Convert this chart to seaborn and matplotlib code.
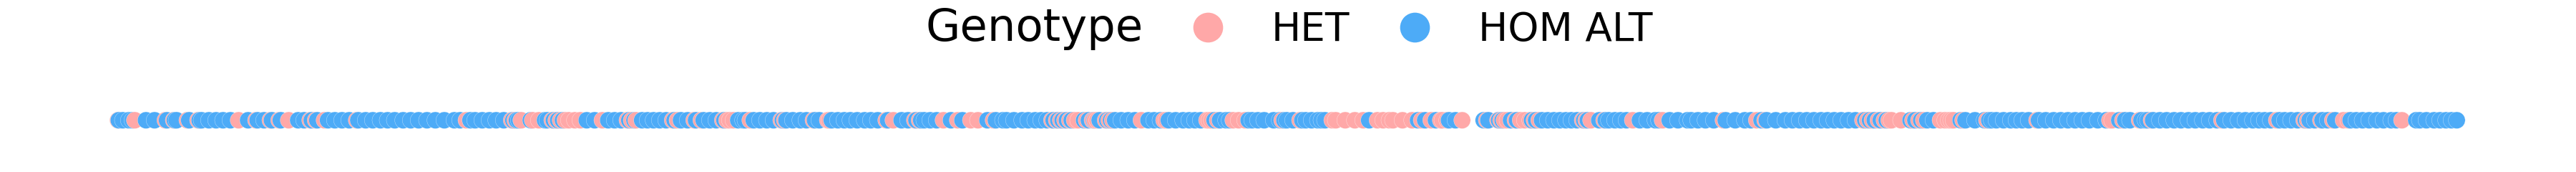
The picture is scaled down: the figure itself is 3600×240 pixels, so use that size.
import numpy as np
import pandas as pd
import matplotlib
matplotlib.use("Agg")
import matplotlib.pyplot as plt
from matplotlib.lines import Line2D
import seaborn as sns

# ---- data: variant positions (arbitrary position units) and genotype calls ----
het_pos = [165.0, 188.4, 231.0, 242.7, 261.7, 276.7, 333.4, 357.7, 377.7, 390.0,
           403.4, 433.4, 441.0, 453.4, 498.4,
           651.7, 715.0, 720.0, 728.4, 744.4, 753.0, 771.7, 777.4, 783.4, 790.0,
           795.0, 803.4, 811.0, 841.7, 876.7, 882.7, 889.0, 940.0, 946.7, 970.0,
           980.0, 1010.0, 1016.0, 1020.0, 1025.0,
           1048.4, 1091.7, 1096.7, 1136.7, 1156.7, 1159.0, 1238.4, 1248.4, 1278.4,
           1285.0, 1318.4, 1338.4, 1356.7, 1366.7, 1388.4, 1470.0, 1476.7, 1482.4,
           1488.4, 1495.0, 1501.7, 1506.7, 1518.4, 1526.7,
           1530.0, 1533.4, 1545.0, 1550.0, 1555.0, 1595.0, 1626.7, 1630.0, 1686.7,
           1690.0, 1693.4, 1701.7, 1723.4, 1731.0, 1740.0, 1791.7, 1816.7, 1861.7,
           1866.7, 1880.0, 1893.4, 1905.0, 1925.0, 1933.0, 1941.7, 1946.7, 1960.0,
           1973.4, 1986.7, 2000.0, 2013.4,
           2015.7, 2022.4, 2043.4, 2077.7, 2093.4, 2097.7, 2102.4, 2106.7, 2117.7,
           2125.0, 2131.0, 2138.4, 2144.4, 2151.0, 2211.7, 2216.7, 2223.4, 2241.7,
           2281.7, 2323.4, 2408.4, 2455.0, 2466.7,
           2603.4, 2610.0, 2616.7, 2625.0, 2633.4, 2640.0, 2643.4, 2656.7, 2673.4,
           2681.7, 2688.4, 2711.7, 2718.4, 2723.4, 2726.7, 2730.0, 2743.4, 2776.7,
           2846.7, 2948.4, 2951.7, 2966.7,
           2990.0, 3006.7, 3105.0, 3181.7, 3220.0, 3225.0, 3243.4, 3260.0, 3275.0,
           3281.7, 3356.7]

hom_alt_pos = [166.0, 171.7, 180.0, 185.0, 204.0, 216.0, 233.4, 244.4, 246.7, 264.4,
               279.0, 281.7, 292.0, 302.0, 311.7, 322.0, 346.7, 360.0, 369.0, 380.0,
               392.4, 416.7, 425.0, 435.7, 443.4, 458.4, 468.0, 478.0, 488.0, 500.7,
               511.0, 521.0, 531.7, 541.7, 551.7,
               563.4, 574.0, 585.0, 596.7, 608.4, 621.0, 635.0, 643.0, 657.4, 664.0,
               674.0, 684.0, 693.4, 704.0, 717.4, 722.4, 725.0, 741.7, 761.7, 765.0,
               774.0, 780.0, 786.7, 820.0, 831.0, 850.0, 859.0, 868.0, 879.4, 886.7,
               897.4, 905.0, 913.4, 922.0, 931.0, 942.7, 951.7, 961.0, 972.7, 983.4,
               992.0, 1001.0, 1012.4, 1031.7, 1038.4,
               1041.7, 1053.4, 1062.0, 1071.7, 1081.0, 1094.0, 1099.0, 1108.0, 1118.4,
               1127.0, 1139.0, 1145.0, 1162.4, 1171.0, 1180.0, 1188.4, 1198.0, 1208.4,
               1217.0, 1226.7, 1241.0, 1260.0, 1269.0, 1280.7, 1287.4, 1291.7, 1300.0,
               1309.0, 1329.0, 1345.0, 1380.0, 1391.7, 1401.7, 1406.7, 1417.0, 1428.4,
               1437.0, 1446.7, 1455.0, 1463.4, 1472.4, 1479.0, 1485.0, 1491.0, 1497.7,
               1515.0, 1521.7, 1529.0,
               1536.7, 1547.4, 1552.7, 1558.4, 1567.0, 1576.7, 1586.0, 1605.0, 1613.0,
               1621.7, 1633.4, 1643.0, 1653.4, 1662.0, 1670.0, 1678.0, 1697.4, 1705.0,
               1713.4, 1718.4, 1745.0, 1750.0, 1758.0, 1766.7, 1780.0, 1788.4, 1795.0,
               1798.4, 1807.0, 1820.0, 1825.0, 1833.0, 1841.7, 1846.7, 1851.7, 1913.4,
               1981.7, 1991.7, 2006.7,
               2025.0, 2034.0, 2073.4, 2080.0, 2095.0, 2100.0, 2111.7, 2120.0, 2141.0,
               2146.7, 2155.0, 2163.0, 2171.7, 2180.0, 2188.4, 2196.0, 2204.0, 2214.0,
               2219.0, 2235.0, 2244.0, 2248.4, 2257.0, 2265.0, 2273.0, 2291.7, 2302.0,
               2313.4, 2318.4, 2333.4, 2345.0, 2358.4, 2363.4, 2373.0, 2383.4, 2395.0,
               2411.7, 2425.0, 2438.4, 2447.0, 2461.7, 2469.0, 2481.7, 2495.0,
               2505.0, 2515.0, 2525.0, 2535.0, 2545.0, 2554.0, 2563.4, 2573.0, 2583.4,
               2593.0, 2606.7, 2613.4, 2620.0, 2628.4, 2636.7, 2670.0, 2676.7, 2685.0,
               2693.4, 2702.0, 2740.0, 2746.7, 2760.0, 2773.4, 2780.0, 2783.4, 2790.0,
               2800.0, 2810.0, 2818.0, 2826.0, 2835.0, 2849.4, 2859.0, 2870.0, 2880.0,
               2890.0, 2900.0, 2910.0, 2920.0, 2931.7, 2943.4, 2961.7, 2970.0, 2976.7,
               2992.7, 2998.4, 3001.7, 3009.0, 3018.4, 3028.0, 3038.4, 3048.0, 3058.4,
               3068.0, 3078.4, 3088.0, 3098.4, 3108.4, 3118.0, 3128.4, 3138.0, 3148.4,
               3157.0, 3165.0, 3173.4, 3185.7, 3193.0, 3201.7, 3211.0, 3222.4, 3227.7,
               3235.0, 3245.7, 3253.0, 3263.4, 3285.0, 3293.0, 3301.7, 3311.0, 3321.7,
               3331.0, 3341.7, 3349.0, 3376.7, 3381.7, 3391.0, 3401.7, 3410.0, 3418.4,
               3426.0, 3433.4]

genotype_labels = ["HET", "HOM ALT"]
genotype_colors = ["#ffa8a8", "#4dabf7"]
legend_title = "Genotype"

df = pd.concat([
    pd.DataFrame({"position": het_pos, "Genotype": "HET"}),
    pd.DataFrame({"position": hom_alt_pos, "Genotype": "HOM ALT"}),
]).sort_values("position", kind="stable").reset_index(drop=True)
df["track"] = 0.0

sns.set_theme(style="white")
plt.rcParams["font.family"] = ["DejaVu Sans"]
plt.rcParams["text.color"] = "black"

fig = plt.figure(figsize=(36, 2.4), dpi=100)
ax = fig.add_axes([0, 0, 1, 1])
palette = dict(zip(genotype_labels, genotype_colors))
sns.scatterplot(data=df, x="position", y="track", hue="Genotype",
                hue_order=genotype_labels, palette=palette,
                s=285, edgecolor="white", linewidth=0.2, legend=False, ax=ax)
ax.set_xlim(0, 3600)
ax.set_ylim(-0.301, 0.699)
ax.set_axis_off()

fs = 39.5
handles = [Line2D([], [], linestyle="none", marker="o", markersize=30,
                  markerfacecolor="none", markeredgecolor="none")]
for c in genotype_colors:
    handles.append(Line2D([], [], linestyle="none", marker="o", markersize=30,
                          markerfacecolor=c, markeredgewidth=0))
leg = fig.legend(handles, [legend_title] + genotype_labels, ncol=3,
                 loc="center left", bbox_to_anchor=(1184 / 3600, 1 - 40 / 240),
                 frameon=False, fontsize=fs, borderpad=0, borderaxespad=0,
                 handlelength=0.76, handletextpad=1.232, columnspacing=1.276)
leg.get_texts()[0].set_fontsize(45)
for t in leg.get_texts():
    t.set_color("black")

fig.savefig("out.png", dpi=100)
